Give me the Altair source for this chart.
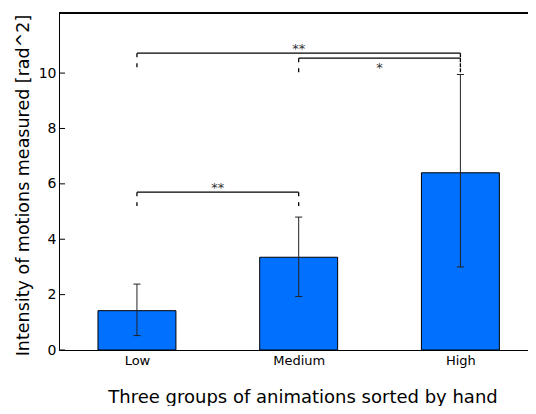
import json
import altair as alt
import pandas as pd

# ---- data ----
categories = ["Low", "Medium", "High"]
positions = [0, 1, 2]
means = [1.42, 3.35, 6.40]
err_low = [0.52, 1.93, 3.00]
err_high = [2.38, 4.80, 9.95]

y_ticks = [0, 2, 4, 6, 8, 10]

bracket_start = [0, 0, 1]
bracket_end = [1, 2, 2]
bracket_level = [5.70, 10.72, 10.54]
bracket_leg_bottom = [5.20, 10.19, 10.01]
bracket_label = ["**", "**", "*"]
bracket_label_y = [5.70, 10.74, 10.03]

# ---- tables ----
bars = pd.DataFrame({"cat": categories, "pos": positions, "mean": means,
                     "lo": err_low, "hi": err_high})
brackets = pd.DataFrame({"x0": bracket_start, "x1": bracket_end,
                         "level": bracket_level, "bottom": bracket_leg_bottom,
                         "label": bracket_label, "label_y": bracket_label_y})
legs = pd.DataFrame({
    "x": bracket_start + bracket_end,
    "level": bracket_level + bracket_level,
    "bottom": bracket_leg_bottom + bracket_leg_bottom,
})
ticks = pd.DataFrame({"v": y_ticks})

FONT = "DejaVu Sans"
W, H = 469, 337

x_scale = alt.Scale(domain=[-0.482, 2.418], nice=False, zero=False)
y_scale = alt.Scale(domain=[0, 12.17], nice=False, zero=True)

x_axis = alt.Axis(
    values=positions,
    labelExpr=json.dumps(categories) + "[datum.value]",
    ticks=False, tickSize=0, grid=False,
    domain=True, domainColor="black", domainWidth=1,
    labelFont=FONT, labelFontSize=13, labelColor="black",
    labelPadding=4, labelBaseline="top",
    title="Three groups of animations sorted by hand",
    titleFont=FONT, titleFontSize=18, titleFontWeight="normal", titleColor="black",
    titleX=243.5, titleY=52, titleAlign="center", titleBaseline="alphabetic",
)
y_axis = alt.Axis(
    values=y_ticks, format="d",
    ticks=False, tickSize=0, grid=False,
    domain=True, domainColor="black", domainWidth=1,
    labelFont=FONT, labelFontSize=14, labelColor="black",
    labelPadding=3,
    title="Intensity of motions measured [rad^2]",
    titleFont=FONT, titleFontSize=17.5, titleFontWeight="normal", titleColor="black",
    titleX=-31, titleY=172, titleAngle=-90, titleAlign="center",
    titleBaseline="alphabetic",
)

bar_layer = alt.Chart(bars).transform_calculate(
    bx0="datum.pos - 0.241", bx1="datum.pos + 0.241"
).mark_bar(color="#0070FF", stroke="black", strokeWidth=1).encode(
    x=alt.X("bx0:Q", scale=x_scale, axis=x_axis),
    x2="bx1:Q",
    y=alt.Y("mean:Q", scale=y_scale, axis=y_axis),
    y2=alt.datum(0),
)

err_layer = alt.Chart(bars).mark_rule(color="#222", strokeWidth=1).encode(
    x=alt.X("pos:Q", scale=x_scale, axis=x_axis),
    y=alt.Y("lo:Q", scale=y_scale, axis=y_axis),
    y2="hi:Q",
)

cap_base = alt.Chart(bars).transform_calculate(
    cx0="datum.pos - 0.022", cx1="datum.pos + 0.022"
).mark_rule(color="#222", strokeWidth=1)
cap_lo = cap_base.encode(
    x=alt.X("cx0:Q", scale=x_scale, axis=x_axis), x2="cx1:Q",
    y=alt.Y("lo:Q", scale=y_scale, axis=y_axis),
)
cap_hi = cap_base.encode(
    x=alt.X("cx0:Q", scale=x_scale, axis=x_axis), x2="cx1:Q",
    y=alt.Y("hi:Q", scale=y_scale, axis=y_axis),
)

bracket_line = alt.Chart(brackets).mark_rule(color="black", strokeWidth=1.3).encode(
    x=alt.X("x0:Q", scale=x_scale, axis=x_axis), x2="x1:Q",
    y=alt.Y("level:Q", scale=y_scale, axis=y_axis),
)
leg_layer = alt.Chart(legs).mark_rule(color="black", strokeWidth=1.3,
                                      strokeDash=[4, 6]).encode(
    x=alt.X("x:Q", scale=x_scale, axis=x_axis),
    y=alt.Y("level:Q", scale=y_scale, axis=y_axis),
    y2="bottom:Q",
)
star_layer = alt.Chart(brackets).transform_calculate(
    mid="(datum.x0 + datum.x1) / 2"
).mark_text(font=FONT, fontSize=13, color="#333", align="center",
            baseline="alphabetic").encode(
    x=alt.X("mid:Q", scale=x_scale, axis=x_axis),
    y=alt.Y("label_y:Q", scale=y_scale, axis=y_axis),
    text="label:N",
)

ytick_layer = alt.Chart(ticks).mark_rule(color="black", strokeWidth=1).encode(
    x=alt.value(0), x2=alt.value(6),
    y=alt.Y("v:Q", scale=y_scale, axis=y_axis),
)
top_spine = alt.Chart(ticks).mark_rule(color="black", strokeWidth=1).encode(
    x=alt.value(0), x2=alt.value(W), y=alt.value(0),
)

chart = alt.layer(
    bar_layer, err_layer, cap_lo, cap_hi, bracket_line, leg_layer, star_layer,
    ytick_layer, top_spine,
).properties(
    width=W, height=H,
    autosize=alt.AutoSizeParams(type="none"),
    padding={"left": 51, "top": 5, "right": 0, "bottom": 56},
    background="white",
).configure_view(stroke=None)

chart.save("out.html", embed_options={"renderer": "svg", "actions": False})
